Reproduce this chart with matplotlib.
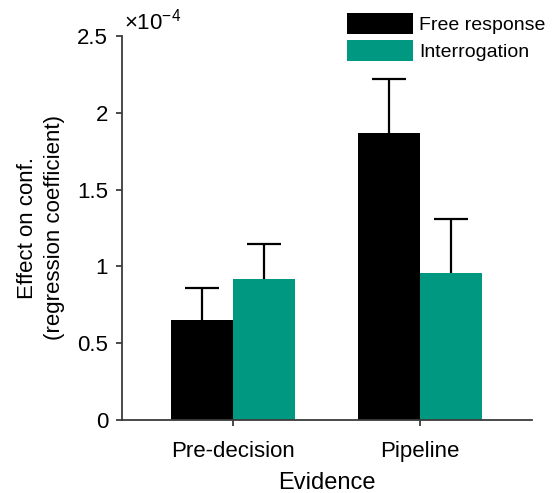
import matplotlib
matplotlib.use("Agg")
import matplotlib.pyplot as plt
import numpy as np

plt.rcParams['font.family'] = ['Liberation Sans', 'DejaVu Sans']
plt.rcParams['mathtext.fontset'] = 'custom'
plt.rcParams['mathtext.rm'] = 'Liberation Sans'

categories = ["Pre-decision", "Pipeline"]
series_names = ["Free response", "Interrogation"]
free_response = [0.649, 1.866]      # x 1e-4
interrogation = [0.916, 0.957]      # x 1e-4
free_err = [0.208, 0.357]
interr_err = [0.227, 0.350]
yticks = [0, 0.5, 1, 1.5, 2, 2.5]
ytick_labels = ["0", "0.5", "1", "1.5", "2", "2.5"]

colors = ["#000000", "#009880"]
spine_col = "#3c3c3c"

fig = plt.figure(figsize=(5.52, 4.93), dpi=100)
ax = fig.add_axes([122/552, 1-420/493, (532-122)/552, (420-36)/493])

x = np.arange(1, len(categories) + 1)
w = 0.332
for vals, errs, col, name, off in [(free_response, free_err, colors[0], series_names[0], -w/2),
                                    (interrogation, interr_err, colors[1], series_names[1], w/2)]:
    ax.bar(x + off, vals, width=w, color=col, label=name, zorder=2)
    eb = ax.errorbar(x + off, vals, yerr=[np.zeros(len(errs)), errs], fmt='none',
                     ecolor='black', elinewidth=1.6, capsize=12, capthick=1.6, zorder=1)
    caps = eb.lines[1]
    if len(caps) > 1:
        caps[0].set_visible(False)

ax.set_xlim(0.406, 2.6)
ax.set_ylim(0, 2.5)
ax.set_xticks(x)
ax.set_xticklabels(categories, fontsize=16)
ax.set_yticks(yticks)
ax.set_yticklabels(ytick_labels, fontsize=16)
for s in ['top', 'right']:
    ax.spines[s].set_visible(False)
for s in ['left', 'bottom']:
    ax.spines[s].set_color(spine_col)
    ax.spines[s].set_linewidth(1.3)
ax.tick_params(axis='y', direction='out', length=4, width=1.3, color=spine_col, pad=6)
ax.tick_params(axis='x', direction='out', length=4, width=1.3, color=spine_col, pad=11)

ax.set_ylabel("Effect on conf.\n(regression coefficient)", fontsize=16, labelpad=9,
              linespacing=1.35)
ax.set_xlabel("Evidence", fontsize=17, labelpad=7)

ax.text(0.005, 1.005, r'$\mathregular{\times10^{-4}}$', transform=ax.transAxes,
        fontsize=16, ha='left', va='bottom')

leg = ax.legend(loc='upper right', bbox_to_anchor=(557/552, 1.0 - 1/493), bbox_transform=fig.transFigure,
                frameon=False, fontsize=14, handlelength=3.4, handleheight=1.3,
                handletextpad=0.3, labelspacing=0.3, borderaxespad=0.2)

fig.savefig("out.png", dpi=100)
